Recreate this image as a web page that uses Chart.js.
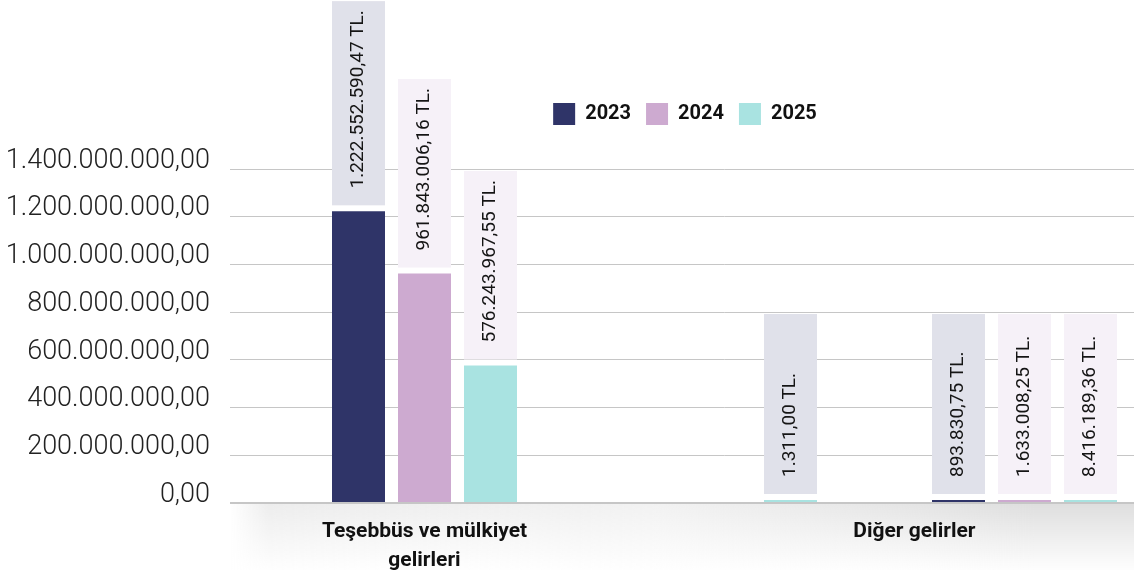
<!DOCTYPE html>
<html lang="tr">
<head>
<meta charset="utf-8">
<title>Gelirler</title>
<script src="https://cdn.jsdelivr.net/npm/chart.js@4.4.1/dist/chart.umd.min.js"></script>
<style>
	html, body { margin: 0; padding: 0; background: #fff; overflow: hidden; }
	.wrap { width: 1134px; height: 570px; overflow: hidden; }
</style>
</head>
<body>
<div class="wrap">
	<canvas id="gelirChart" width="1180" height="570"></canvas>
</div>
<script>
const categories = ["Teşebbüs ve mülkiyet gelirleri", "", "Diğer gelirler"];
const years = ["2023", "2024", "2025"];
const values2023 = [1222552590.47, null, 893830.75];
const values2024 = [961843006.16, null, 1633008.25];
const values2025 = [576243967.55, 1311.00, 8416189.36];
const axisLabels = [["Teşebbüs ve mülkiyet", "gelirleri"], "Diğer gelirler"];
const yTickMax = 1400000000;
const yTickStep = 200000000;

const barColors = ["#2f3468", "#cdaad0", "#a9e3e1"];
const boxColors = ["#e0e1ea", "#f6f1f8"];

// 1234567.5 -> "1.234.567,50"
const formatTR = (v) => {
	const [whole, dec] = Number(v).toFixed(2).split(".");
	return whole.replace(/\B(?=(\d{3})+(?!\d))/g, ".") + "," + dec;
};

// soft grey shadow under the x axis line
const axisShadow = {
	id: "axisShadow",
	beforeDraw(chart) {
		const {ctx, chartArea} = chart;
		const left = chartArea.left - chart.scales.y.options.grid.tickLength;
		const top = chartArea.bottom;
		const w = chart.width - left;
		const h = 70;
		ctx.save();
		const down = ctx.createLinearGradient(0, top, 0, top + h);
		down.addColorStop(0, "rgba(0,0,0,0.13)");
		down.addColorStop(1, "rgba(0,0,0,0)");
		ctx.fillStyle = down;
		ctx.fillRect(left, top, w, h);
		const across = ctx.createLinearGradient(left, 0, left + w, 0);
		across.addColorStop(0, "rgba(255,255,255,1)");
		across.addColorStop(0.04, "rgba(255,255,255,0.45)");
		across.addColorStop(0.45, "rgba(255,255,255,0.6)");
		across.addColorStop(0.85, "rgba(255,255,255,0)");
		ctx.fillStyle = across;
		ctx.fillRect(left, top, w, h);
		ctx.restore();
	}
};

// legend: extra room below it, centred over the visible axis line
const legendPlacement = {
	id: "legendPlacement",
	beforeInit(chart) {
		const fit = chart.legend.fit;
		chart.legend.fit = function () {
			fit.bind(chart.legend)();
			this.height += 34;
		};
	},
	afterLayout(chart) {
		const legend = chart.legend;
		legend.left = chart.chartArea.left - chart.scales.y.options.grid.tickLength;
		legend.right = chart.canvas.parentNode.clientWidth + 6;
		legend.width = legend.right - legend.left;
	}
};

// rotated value tags sitting on top of each bar
const valueTags = {
	id: "valueTags",
	afterDatasetsDraw(chart) {
		const {ctx} = chart;
		const datasets = chart.data.datasets;
		ctx.save();
		ctx.font = "19px Roboto";
		ctx.textAlign = "left";
		ctx.textBaseline = "middle";
		chart.data.labels.forEach((_, j) => {
			const first = datasets.findIndex(ds => ds.data[j] != null);
			datasets.forEach((ds, i) => {
				if (ds.data[j] == null) return;
				const bar = chart.getDatasetMeta(i).data[j];
				const text = formatTR(ds.data[j]) + " TL.";
				const tw = ctx.measureText(text).width;
				const boxH = Math.max(tw + 26, 180);
				const bottom = bar.y - 6;
				ctx.fillStyle = i === first ? boxColors[0] : boxColors[1];
				ctx.fillRect(bar.x - bar.width / 2, bottom - boxH, bar.width, boxH);
				ctx.save();
				ctx.translate(bar.x, bottom - 17);
				ctx.rotate(-Math.PI / 2);
				ctx.fillStyle = "#151515";
				ctx.fillText(text, 0, 0);
				ctx.restore();
			});
		});
		ctx.restore();
	}
};

const canvas = document.getElementById("gelirChart");
const chart = new Chart(canvas, {
	type: "bar",
	data: {
		labels: categories,
		datasets: [values2023, values2024, values2025].map((values, i) => ({
			label: years[i],
			data: values,
			backgroundColor: barColors[i],
			borderWidth: 0,
			minBarLength: 3,
			categoryPercentage: 0.66,
			barPercentage: 0.803
		}))
	},
	options: {
		responsive: false,
		animation: false,
		layout: {
			padding: {left: 0, right: 5.5, top: 88, bottom: 0}
		},
		plugins: {
			legend: {
				position: "top",
				labels: {
					boxWidth: 22,
					boxHeight: 22,
					padding: 15,
					color: "#111",
					font: {family: "Roboto", weight: "bold", size: 20}
				}
			},
			tooltip: {enabled: false}
		},
		scales: {
			x: {
				offset: true,
				grid: {display: false},
				border: {display: false},
				afterBuildTicks(scale) {
					scale.ticks = [{value: 0}, {value: 1.633}];
				},
				afterFit(scale) {
					scale.height = 67;
				},
				ticks: {
					autoSkip: false,
					maxRotation: 0,
					padding: 7,
					color: "#111",
					font: {family: "Roboto", weight: "bold", size: 21, lineHeight: 1.35},
					callback: (value, index) => axisLabels[index]
				}
			},
			y: {
				min: 0,
				max: yTickMax,
				border: {display: false},
				grid: {
					color: "#c6c6c6",
					lineWidth: (c) => (c.tick && c.tick.value === 0 ? 2 : 1),
					tickLength: 44.5
				},
				afterFit(scale) {
					scale.width = 274.5;
				},
				ticks: {
					stepSize: yTickStep,
					padding: 20,
					labelOffset: -8,
					color: "#222",
					font: {family: "Roboto", weight: 300, size: 27},
					callback: (value) => formatTR(value)
				}
			}
		}
	},
	plugins: [axisShadow, legendPlacement, valueTags]
});
</script>
</body>
</html>
